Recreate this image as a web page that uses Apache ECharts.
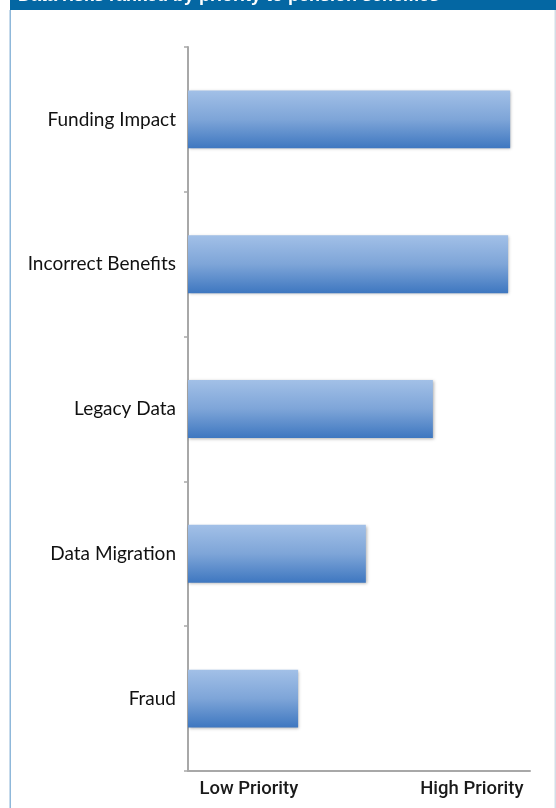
<!DOCTYPE html>
<html><head><meta charset="utf-8">
<script src="https://cdn.jsdelivr.net/npm/echarts@6/dist/echarts.min.js"></script>
<style>html,body{margin:0;padding:0;background:#fff}#c{width:556px;height:808px}</style>
</head><body><div id="c"></div>
<script>
const titleText = 'Data risks ranked by priority to pension schemes';
const categories = ['Funding Impact', 'Incorrect Benefits', 'Legacy Data', 'Data Migration', 'Fraud'];
const priorityValues = [94.2, 93.6, 71.6, 52, 32.2];
const xTickLabels = ['Low Priority', 'High Priority'];
const xTickPositions = [17.8, 83];

const chart = echarts.init(document.getElementById('c'));
chart.setOption({
  backgroundColor: '#ffffff',
  animation: false,
  graphic: [
    { type: 'rect', shape: { x: 10, y: 0, width: 546, height: 10 }, style: { fill: '#0467a3' }, z: 10 },
    { type: 'rect', shape: { x: 9.5, y: 10, width: 1.5, height: 798 }, style: { fill: '#8fb8da' }, z: 10 },
    { type: 'rect', shape: { x: 554.5, y: 10, width: 1.5, height: 798 }, style: { fill: '#d3dde6' }, z: 10 },
    { type: 'text', left: 18, top: -13, style: { text: titleText, fill: '#ffffff', font: 'bold 18px "Liberation Sans"' }, z: 11 }
  ],
  grid: { left: 188, right: 26, top: 47, bottom: 37, containLabel: false },
  xAxis: {
    type: 'value', min: 0, max: 100,
    splitLine: { show: false },
    axisLine: { show: true, lineStyle: { color: '#a8a8a8', width: 2 } },
    axisTick: { show: false },
    axisLabel: {
      customValues: xTickPositions,
      formatter: function (v) { const i = xTickPositions.indexOf(v); return i >= 0 ? xTickLabels[i] : ''; },
      color: '#1a1a1a', fontFamily: 'Roboto', fontWeight: 500, fontSize: 18.5, margin: 9
    }
  },
  yAxis: {
    type: 'category', data: categories, inverse: true,
    axisLine: { show: true, lineStyle: { color: '#a8a8a8', width: 2 } },
    axisTick: { show: true, alignWithLabel: false, length: 4, lineStyle: { color: '#a8a8a8', width: 1.5 } },
    axisLabel: { color: '#111', fontFamily: 'Lato', fontSize: 19, margin: 12, padding: [4, 0, 0, 0] }
  },
  series: [{
    type: 'bar', data: priorityValues, barWidth: '40%',
    itemStyle: {
      color: new echarts.graphic.LinearGradient(0, 0, 0, 1, [
        { offset: 0, color: '#a2c0e7' },
        { offset: 0.5, color: '#7ea5d8' },
        { offset: 1, color: '#3e77c0' }
      ]),
      shadowBlur: 3, shadowColor: 'rgba(0,0,0,0.3)', shadowOffsetX: 1, shadowOffsetY: 1
    }
  }]
});
</script></body></html>
